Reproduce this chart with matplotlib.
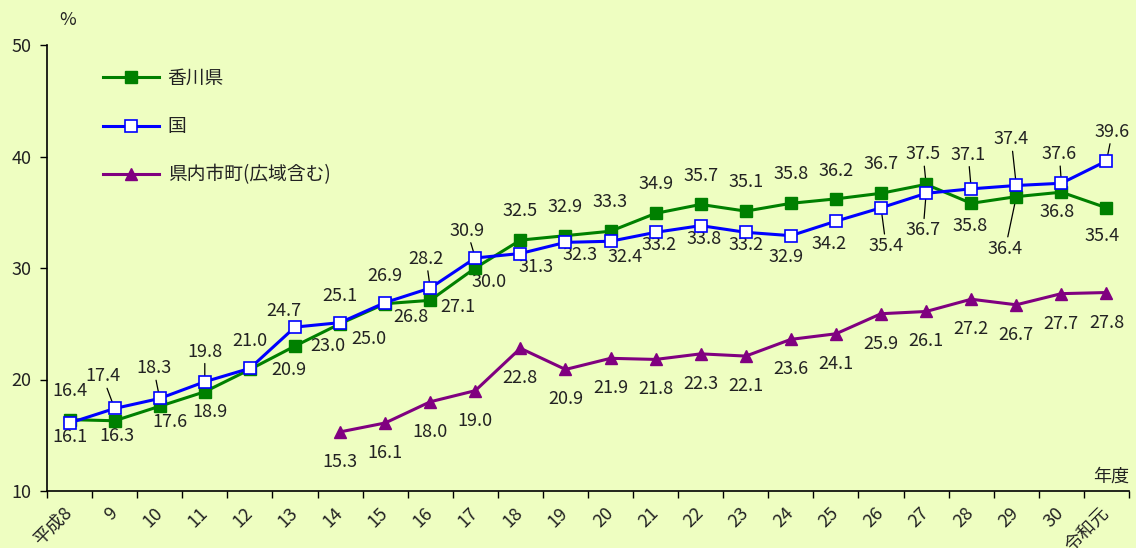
import matplotlib
matplotlib.use("Agg")
import matplotlib.pyplot as plt
import numpy as np

plt.rcParams['font.family'] = ['Noto Sans CJK JP', 'DejaVu Sans']

years = ["平成8", "9", "10", "11", "12", "13", "14", "15", "16", "17", "18", "19",
         "20", "21", "22", "23", "24", "25", "26", "27", "28", "29", "30", "令和元"]
kagawa = [16.4, 16.3, 17.6, 18.9, 20.9, 23.0, 25.0, 26.8, 27.1, 30.0, 32.5, 32.9,
          33.3, 34.9, 35.7, 35.1, 35.8, 36.2, 36.7, 37.5, 35.8, 36.4, 36.8, 35.4]
kuni = [16.1, 17.4, 18.3, 19.8, 21.0, 24.7, 25.1, 26.9, 28.2, 30.9, 31.3, 32.3,
        32.4, 33.2, 33.8, 33.2, 32.9, 34.2, 35.4, 36.7, 37.1, 37.4, 37.6, 39.6]
shicho_start = 6  # 平成14
shicho = [15.3, 16.1, 18.0, 19.0, 22.8, 20.9, 21.9, 21.8, 22.3, 22.1, 23.6, 24.1,
          25.9, 26.1, 27.2, 26.7, 27.7, 27.8]
series_names = ["香川県", "国", "県内市町(広域含む)"]

# label offsets in pixels (dx right, dy down)
off_kagawa = [(0, -29), (2, 15), (10, 16), (5, 20), (39, 1), (33, 0), (29, 15), (26, 13),
              (28, 7), (14, 14), (0, -29), (0, -29), (0, -29), (0, -29), (0, -28), (0, -29),
              (0, -29), (0, -28), (0, -29), (-3, -30), (-1, 23), (-11, 52), (-4, 20), (-4, 28)]
lead_kagawa = {19, 21}
off_kuni = [(0, 14), (-12, -32), (-6, -30), (0, -30), (0, -27), (-11, -16), (0, -27), (0, -27),
            (-4, -29), (-8, -27), (16, 13), (15, 13), (15, 16), (3, 13), (3, 13), (0, 13),
            (-5, 21), (-7, 23), (5, 38), (-3, 37), (-3, -34), (-5, -46), (-2, -29), (6, -29)]
lead_kuni = {1, 2, 3, 8, 9, 18, 19, 20, 21, 22, 23}
off_shicho = (0, 30)

bg = '#EEFEC1'
green = '#008000'
blue = '#0000FF'
purple = '#800080'

W, H = 1136, 548
fig = plt.figure(figsize=(W / 100, H / 100), dpi=100, facecolor=bg)
ax = fig.add_axes([47 / W, (H - 491) / H, (1129 - 47) / W, (491 - 45) / H], facecolor=bg)

x = np.arange(len(years)) + 0.5
xs = x[shicho_start:shicho_start + len(shicho)]

ax.plot(x, kagawa, color=green, lw=2.2, marker='s', ms=8.5, mfc=green, mec=green,
        label=series_names[0], zorder=4)
ax.plot(x, kuni, color=blue, lw=2.2, marker='s', ms=8.5, mfc='white', mec=blue, mew=1.2,
        label=series_names[1], zorder=5)
ax.plot(xs, shicho, color=purple, lw=2.2, marker='^', ms=8.5, mfc=purple, mec=purple,
        label=series_names[2], zorder=3)

fs = 13
def put(xv, yv, off, lead):
    kw = dict(textcoords='offset pixels', ha='center', va='center', fontsize=fs,
              color='#222222', zorder=2)
    if lead:
        kw['arrowprops'] = dict(arrowstyle='-', color='black', lw=0.9, shrinkA=0, shrinkB=0)
    ax.annotate(f"{yv:.1f}", xy=(xv, yv), xytext=(off[0], -off[1]), **kw)

for i, v in enumerate(kagawa):
    put(x[i], v, off_kagawa[i], i in lead_kagawa)
for i, v in enumerate(kuni):
    put(x[i], v, off_kuni[i], i in lead_kuni)
for xv, v in zip(xs, shicho):
    put(xv, v, off_shicho, False)

ax.set_xlim(0, len(years))
ax.set_ylim(10, 50)
ax.set_yticks([10, 20, 30, 40, 50])
ax.set_xticks(np.arange(len(years) + 1))
ax.set_xticklabels([])
ax.set_xticks(x, minor=True)
ax.set_xticklabels(years, minor=True, rotation=45, ha='right', va='center',
                   rotation_mode='anchor', fontsize=fs, color='#222222')
ax.tick_params(axis='x', which='minor', length=0, pad=14)
ax.tick_params(axis='x', which='major', length=5, width=1, direction='out')
ax.tick_params(axis='y', length=5, width=1, direction='out', labelsize=fs,
               labelcolor='#222222', pad=6)
for s in ['top', 'right']:
    ax.spines[s].set_visible(False)
for s in ['left', 'bottom']:
    ax.spines[s].set_linewidth(1.2)
    ax.spines[s].set_color('black')

fig.text(68 / W, 1 - 20 / H, "%", ha='center', va='center', fontsize=fs, color='#222222')
ax.text(1.0, 14 / 446, "年度", transform=ax.transAxes, ha='right', va='center',
        fontsize=fs, color='#222222')

leg = ax.legend(loc='upper left', bbox_to_anchor=((103 - 47) / 1082, (491 - 68) / 446),
                frameon=False, fontsize=13.5, handlelength=3.0, handletextpad=0.45,
                labelspacing=1.45, borderpad=0, borderaxespad=0)
for t in leg.get_texts():
    t.set_color('#222222')

fig.savefig("out.png", dpi=100, facecolor=bg)
